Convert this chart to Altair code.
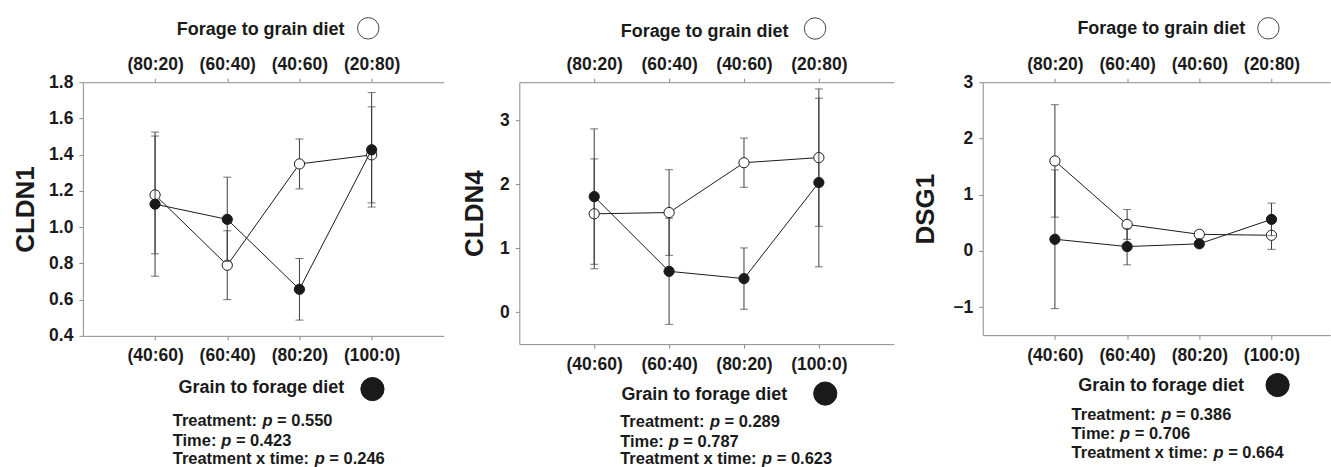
import altair as alt
import pandas as pd

# ---------------- data ----------------
bottom_labels = ["(40:60)", "(60:40)", "(80:20)", "(100:0)"]   # grain to forage
top_labels = ["(80:20)", "(60:40)", "(40:60)", "(20:80)"]      # forage to grain
genes = ["CLDN1", "CLDN4", "DSG1"]

# open circles: forage to grain diet ; filled circles: grain to forage diet
cldn1_open = [1.178, 0.790, 1.349, 1.399]
cldn1_open_se = [0.325, 0.190, 0.138, 0.265]
cldn1_filled = [1.127, 1.043, 0.657, 1.427]
cldn1_filled_se = [0.398, 0.233, 0.170, 0.316]

cldn4_open = [1.54, 1.56, 2.34, 2.42]
cldn4_open_se = [0.86, 0.67, 0.385, 1.075]
cldn4_filled = [1.81, 0.64, 0.526, 2.03]
cldn4_filled_se = [1.06, 0.83, 0.48, 1.32]

dsg1_open = [1.60, 0.47, 0.294, 0.277]
dsg1_open_se = [1.00, 0.265, 0.06, 0.25]
dsg1_filled = [0.206, 0.076, 0.125, 0.56]
dsg1_filled_se = [1.234, 0.325, 0.05, 0.29]

p_treatment = ["0.550", "0.289", "0.386"]
p_time = ["0.423", "0.787", "0.706"]
p_interaction = ["0.246", "0.623", "0.664"]

y_domains = [[0.4, 1.8], [-0.5, 3.6], [-1.5, 3.0]]
y_ticks = [[0.4, 0.6, 0.8, 1.0, 1.2, 1.4, 1.6, 1.8], [0, 1, 2, 3], [-1, 0, 1, 2, 3]]
y_formats = [".1f", "d", "d"]

series = [
    (cldn1_open, cldn1_open_se, cldn1_filled, cldn1_filled_se),
    (cldn4_open, cldn4_open_se, cldn4_filled, cldn4_filled_se),
    (dsg1_open, dsg1_open_se, dsg1_filled, dsg1_filled_se),
]

# ---------------- layout / style ----------------
FONT = "Liberation Sans"
INK = "#1a1a1a"
AXIS_GRAY = "#8a8a8a"
ERR = "#3a3a3a"
SPACING = 75.1

layouts = [
    dict(w=361.5, h=254.0, xr=361.5, pad=1.0, align=0.5, ytx=-57.0,
         ttx=177.5, tty=-47.7, btx=178.3, bty=56.7,
         oc=(285.8, -54.0), fc=(290.0, 307.3), px=90.0, py=[90.0, 110.0, 128.5]),
    dict(w=388.3, h=262.3, xr=375.0, pad=1.0, align=0.5, ytx=-45.3,
         ttx=185.0, tty=-46.0, btx=184.7, bty=55.0,
         oc=(296.2, -53.8), fc=(306.4, 311.8), px=101.0, py=[83.4, 102.7, 119.7]),
    dict(w=348.0, h=253.3, xr=348.0, pad=0.9066, align=0.5515, ytx=-57.7,
         ttx=178.3, tty=-49.3, btx=178.1, bty=55.0,
         oc=(286.1, -54.0), fc=(295.3, 303.3), px=89.0, py=[85.0, 104.0, 123.4]),
]

AW = {" ": 278, "T": 611, "r": 389, "e": 556, "a": 556, "t": 333, "m": 889,
      "n": 611, ":": 333, "i": 278, "x": 556, "p": 611, "=": 584, ".": 278}
for d in "0123456789":
    AW[d] = 556


def tw(s, size):
    return sum(AW.get(c, 556) for c in s) * size / 1000.0


axis_style = dict(domainColor=AXIS_GRAY, domainWidth=1, tickColor=AXIS_GRAY, tickWidth=1,
                  tickSize=4, labelFont=FONT, labelFontSize=17.5, labelFontWeight="bold",
                  labelColor=INK, titleFont=FONT, titleFontWeight="bold", titleColor=INK,
                  grid=False, labelAngle=0)


def yscale(i):
    return alt.Scale(domain=y_domains[i], nice=False, zero=False)


def yaxis(i):
    L = layouts[i]
    return alt.Axis(title=genes[i], orient="left", values=y_ticks[i], format=y_formats[i],
                    labelPadding=6, titleX=L["ytx"], titleY=L["h"] / 2, titleAngle=270,
                    titleAlign="center", titleBaseline="middle", titleFontSize=26,
                    **axis_style)


def xscale(i, labels):
    L = layouts[i]
    return alt.Scale(type="point", domain=labels, range=[0, L["xr"]],
                     padding=L["pad"], align=L["align"])


def series_group(i, df, field, labels, axis, pre, fill):
    x = alt.X(f"{field}:N", scale=xscale(i, labels), axis=axis)
    base = alt.Chart(df)
    rule = base.mark_rule(color=ERR, strokeWidth=1).encode(
        x=x, y=alt.Y(f"{pre}_lo:Q", scale=yscale(i), axis=yaxis(i)), y2=f"{pre}_hi:Q")
    tlo = base.mark_tick(color=ERR, size=8, thickness=1, orient="horizontal").encode(
        x=x, y=alt.Y(f"{pre}_lo:Q", scale=yscale(i), axis=yaxis(i)))
    thi = base.mark_tick(color=ERR, size=8, thickness=1, orient="horizontal").encode(
        x=x, y=alt.Y(f"{pre}_hi:Q", scale=yscale(i), axis=yaxis(i)))
    line = base.mark_line(color=INK, strokeWidth=1).encode(
        x=x, y=alt.Y(f"{pre}_mean:Q", scale=yscale(i), axis=yaxis(i)), order="idx:Q")
    pts = base.mark_point(shape="circle", filled=True, size=105, fill=fill, stroke=INK,
                          strokeWidth=1, opacity=1).encode(
        x=x, y=alt.Y(f"{pre}_mean:Q", scale=yscale(i), axis=yaxis(i)))
    return alt.layer(rule, tlo, thi, line, pts)


one = pd.DataFrame({"a": [0]})


def text_at(txt, x, y, size, italic=False):
    kw = dict(align="left", baseline="alphabetic", font=FONT, fontSize=size,
              fontWeight="bold", color=INK)
    if italic:
        kw["fontStyle"] = "italic"
    return alt.Chart(one).mark_text(text=txt, **kw).encode(x=alt.value(x), y=alt.value(y))


def panel(i):
    L = layouts[i]
    om, ose, fm, fse = series[i]
    df = pd.DataFrame({
        "idx": list(range(4)),
        "top": top_labels,
        "bottom": bottom_labels,
        "o_mean": om,
        "o_lo": [m - s for m, s in zip(om, ose)],
        "o_hi": [m + s for m, s in zip(om, ose)],
        "f_mean": fm,
        "f_lo": [m - s for m, s in zip(fm, fse)],
        "f_hi": [m + s for m, s in zip(fm, fse)],
    })
    top_axis = alt.Axis(orient="top", title="Forage to grain diet", titleFontSize=18,
                        titleX=L["ttx"], titleY=L["tty"], titleAlign="center",
                        titleBaseline="alphabetic", labelBaseline="alphabetic",
                        labelPadding=9, **axis_style)
    bottom_axis = alt.Axis(orient="bottom", title="Grain to forage diet", titleFontSize=18,
                           titleX=L["btx"], titleY=L["bty"], titleAlign="center",
                           titleBaseline="alphabetic", labelBaseline="alphabetic",
                           labelPadding=21, **axis_style)
    open_g = series_group(i, df, "top", top_labels, top_axis, "o", "white")
    filled_g = series_group(i, df, "bottom", bottom_labels, bottom_axis, "f", INK)

    layers = [open_g, filled_g]
    # legend symbols
    layers.append(alt.Chart(one).mark_point(shape="circle", filled=True, size=460, fill="white",
                                            stroke="#444444", strokeWidth=1, opacity=1)
                  .encode(x=alt.value(L["oc"][0]), y=alt.value(L["oc"][1])))
    layers.append(alt.Chart(one).mark_point(shape="circle", filled=True, size=540, fill=INK,
                                            stroke=INK, strokeWidth=1, opacity=1)
                  .encode(x=alt.value(L["fc"][0]), y=alt.value(L["fc"][1])))
    # statistics text
    fs = 16.5
    prefixes = ["Treatment: ", "Time: ", "Treatment x time: "]
    values = [p_treatment[i], p_time[i], p_interaction[i]]
    for pre, val, off in zip(prefixes, values, L["py"]):
        y = L["h"] + off
        x0 = L["px"]
        layers.append(text_at(pre.strip(), x0, y, fs))
        xp = x0 + tw(pre, fs)
        layers.append(text_at("p", xp, y, fs, italic=True))
        layers.append(text_at("= " + val, xp + tw("p ", fs), y, fs))
    if i == 0:
        # anchor for the page origin (invisible)
        layers.append(alt.Chart(one).mark_rule(opacity=0, strokeWidth=0)
                      .encode(x=alt.value(-82), y=alt.value(-81), y2=alt.value(200)))
    return alt.layer(*layers).resolve_scale(x="independent").properties(
        width=L["w"], height=L["h"])


chart = alt.hconcat(panel(0), panel(1), panel(2), spacing=SPACING, bounds="flush").properties(
    padding=0
).configure_view(stroke="transparent")

chart.save("out.html", embed_options={"renderer": "svg", "actions": False})
